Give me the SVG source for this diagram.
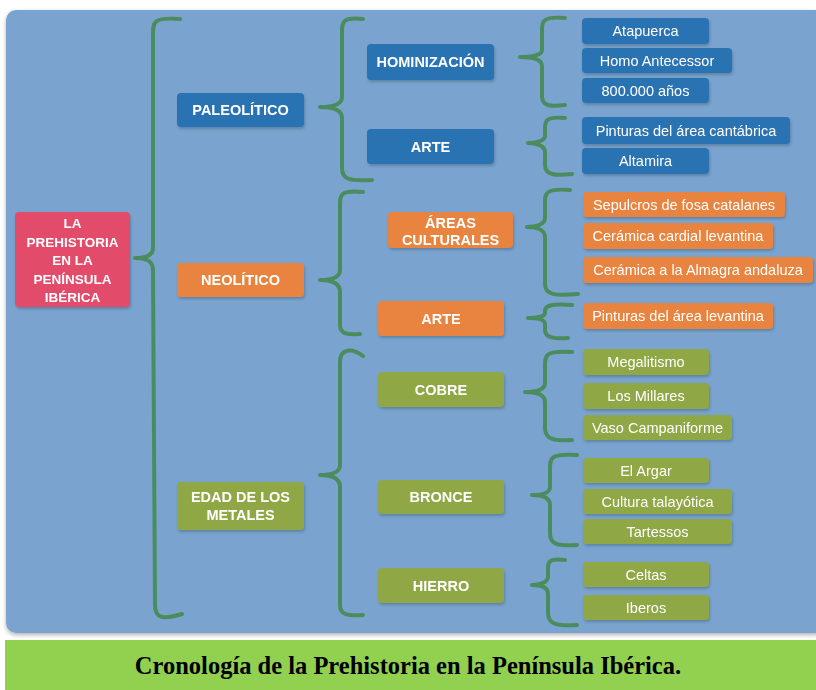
<svg xmlns="http://www.w3.org/2000/svg" width="816" height="690" viewBox="0 0 816 690">
<defs>
<filter id="sh" x="-10%" y="-20%" width="125%" height="150%">
<feDropShadow dx="1" dy="2" stdDeviation="1.5" flood-color="#2a3f5a" flood-opacity="0.35"/>
</filter>
<filter id="psh" x="-5%" y="-5%" width="110%" height="110%">
<feDropShadow dx="0" dy="2" stdDeviation="2" flood-color="#000" flood-opacity="0.3"/>
</filter>
</defs>
<style>
.b{fill:#2c73b3}
.o{fill:#e9843f}
.g{fill:#8fa845}
.p{fill:#e24b69}
.n{filter:url(#sh)}
.t{font-family:"Liberation Sans",Arial,sans-serif;font-weight:bold;font-size:14.5px;fill:#ffffff;text-anchor:middle}
.r{font-family:"Liberation Sans",Arial,sans-serif;font-weight:bold;font-size:13.5px;fill:#ffffff;text-anchor:middle}
.l{font-family:"Liberation Sans",Arial,sans-serif;font-size:14.5px;fill:#ffffff;text-anchor:middle}
.br{fill:none;stroke:#4b8c5e;stroke-width:4;stroke-linecap:round;stroke-linejoin:round}
.cap{font-family:"Liberation Serif","Times New Roman",serif;font-weight:bold;font-size:24.5px;fill:#000;text-anchor:middle}
</style>
<rect width="816" height="690" fill="#ffffff"/>
<rect x="6" y="10" width="820" height="623" rx="10" fill="#7aa4cf" filter="url(#psh)"/>
<rect x="5" y="640" width="811" height="50" fill="#92d050"/>
<text class="cap" x="408" y="674">Cronología de la Prehistoria en la Península Ibérica.</text>

<g id="connectors">
<path class="br" d="M180,19 C153,17 153,22 153,35 L153,248 C153,256 145,258 135,258 C145,258 153,260 153,270 L155,605 C155,618 162,620 182,614"/>
<path class="br" d="M363,19 C342,17 342,22 342,33 L342,97 C342,105 332,107 320,107 C332,107 342,109 342,118 L342,168 C342,180 350,181 372,180"/>
<path class="br" d="M363,192 C340,190 340,195 340,205 L340,270 C340,278 330,280 320,280 C330,280 340,282 340,292 L340,325 C340,334 348,335 360,334"/>
<path class="br" d="M363,356 C352,348 340,348 340,362 L340,465 C340,473 330,475 320,475 C330,475 340,477 340,487 L340,605 C340,615 348,616 363,615"/>
<path class="br" d="M565,18 C542,16 542,22 542,30 L542,50 C542,55 532,57 520,57 C532,57 542,59 542,66 L542,96 C542,106 550,107 565,105"/>
<path class="br" d="M565,118 C545,116 545,122 545,128 L545,136 C545,141 535,143 528,143 C535,143 545,145 545,152 L545,165 C545,175 555,176 572,174"/>
<path class="br" d="M570,190 C545,188 545,194 545,202 L545,218 C545,225 535,227 527,227 C535,227 545,229 545,237 L545,284 C545,295 555,296 578,294"/>
<path class="br" d="M572,305 C548,303 545,307 545,311 L545,313 C545,317 535,318 528,318 C535,318 545,319 545,324 L545,330 C545,338 555,339 568,338"/>
<path class="br" d="M572,352 C545,350 545,356 545,365 L545,383 C545,390 535,392 525,392 C535,392 545,394 545,402 L545,428 C545,440 555,441 572,440"/>
<path class="br" d="M577,455 C550,453 550,459 550,468 L550,487 C550,493 542,495 532,495 C542,495 550,497 550,505 L550,533 C550,545 558,546 577,545"/>
<path class="br" d="M565,560 C548,558 548,563 548,568 L548,577 C548,582 540,585 532,585 C540,585 548,587 548,594 L548,613 C548,625 558,626 577,625"/>
</g>

<g id="root" class="n"><rect class="p" x="15" y="212" width="115" height="95" rx="4"/>
<text class="r" x="72.5" y="228">LA</text><text class="r" x="72.5" y="247">PREHISTORIA</text><text class="r" x="72.5" y="265">EN LA</text><text class="r" x="72.5" y="284">PENÍNSULA</text><text class="r" x="72.5" y="302">IBÉRICA</text></g>

<g id="paleolitico" class="n"><rect class="b" x="177" y="93" width="127" height="34" rx="4"/><text class="t" x="240.5" y="115">PALEOLÍTICO</text></g>
<g id="neolitico" class="n"><rect class="o" x="177" y="263" width="127" height="34" rx="4"/><text class="t" x="240.5" y="285">NEOLÍTICO</text></g>
<g id="metales" class="n"><rect class="g" x="177" y="482" width="127" height="48" rx="4"/><text class="t" x="240.5" y="502">EDAD DE LOS</text><text class="t" x="240.5" y="520">METALES</text></g>

<g id="hominizacion" class="n"><rect class="b" x="367" y="44" width="127" height="36" rx="4"/><text class="t" x="430.5" y="67">HOMINIZACIÓN</text></g>
<g id="arte-paleo" class="n"><rect class="b" x="367" y="129" width="127" height="35" rx="4"/><text class="t" x="430.5" y="152">ARTE</text></g>
<g id="areas" class="n"><rect class="o" x="388" y="212" width="125" height="36" rx="4"/><text class="t" x="450.5" y="228">ÁREAS</text><text class="t" x="450.5" y="245">CULTURALES</text></g>
<g id="arte-neo" class="n"><rect class="o" x="378" y="301" width="126" height="35" rx="4"/><text class="t" x="441" y="324">ARTE</text></g>
<g id="cobre" class="n"><rect class="g" x="378" y="372" width="126" height="35" rx="4"/><text class="t" x="441" y="395">COBRE</text></g>
<g id="bronce" class="n"><rect class="g" x="378" y="480" width="126" height="34" rx="4"/><text class="t" x="441" y="502">BRONCE</text></g>
<g id="hierro" class="n"><rect class="g" x="378" y="568" width="126" height="35" rx="4"/><text class="t" x="441" y="591">HIERRO</text></g>

<g id="atapuerca" class="n"><rect class="b" x="582" y="18" width="127" height="26" rx="4"/><text class="l" x="645.5" y="36">Atapuerca</text></g>
<g id="homo" class="n"><rect class="b" x="582" y="48" width="150" height="25" rx="4"/><text class="l" x="657" y="66">Homo Antecessor</text></g>
<g id="anos" class="n"><rect class="b" x="582" y="78" width="127" height="25" rx="4"/><text class="l" x="645.5" y="96">800.000 años</text></g>
<g id="cantabrica" class="n"><rect class="b" x="582" y="117" width="208" height="27" rx="4"/><text class="l" x="686" y="136">Pinturas del área cantábrica</text></g>
<g id="altamira" class="n"><rect class="b" x="582" y="148" width="127" height="26" rx="4"/><text class="l" x="645.5" y="166">Altamira</text></g>
<g id="sepulcros" class="n"><rect class="o" x="583" y="192" width="202" height="25" rx="4"/><text class="l" x="684" y="210">Sepulcros de fosa catalanes</text></g>
<g id="cardial" class="n"><rect class="o" x="583" y="223" width="190" height="26" rx="4"/><text class="l" x="678" y="241">Cerámica cardial levantina</text></g>
<g id="almagra" class="n"><rect class="o" x="583" y="257" width="230" height="26" rx="4"/><text class="l" x="698" y="275">Cerámica a la Almagra andaluza</text></g>
<g id="levantina" class="n"><rect class="o" x="583" y="303" width="190" height="26" rx="4"/><text class="l" x="678" y="321">Pinturas del área levantina</text></g>
<g id="megalitismo" class="n"><rect class="g" x="583" y="349" width="126" height="26" rx="4"/><text class="l" x="646" y="367">Megalitismo</text></g>
<g id="millares" class="n"><rect class="g" x="583" y="383" width="126" height="26" rx="4"/><text class="l" x="646" y="401">Los Millares</text></g>
<g id="vaso" class="n"><rect class="g" x="583" y="415" width="149" height="25" rx="4"/><text class="l" x="657.5" y="433">Vaso Campaniforme</text></g>
<g id="argar" class="n"><rect class="g" x="583" y="458" width="126" height="25" rx="4"/><text class="l" x="646" y="476">El Argar</text></g>
<g id="talayotica" class="n"><rect class="g" x="583" y="489" width="149" height="25" rx="4"/><text class="l" x="657.5" y="507">Cultura talayótica</text></g>
<g id="tartessos" class="n"><rect class="g" x="583" y="519" width="149" height="25" rx="4"/><text class="l" x="657.5" y="537">Tartessos</text></g>
<g id="celtas" class="n"><rect class="g" x="583" y="562" width="126" height="25" rx="4"/><text class="l" x="646" y="580">Celtas</text></g>
<g id="iberos" class="n"><rect class="g" x="583" y="595" width="126" height="25" rx="4"/><text class="l" x="646" y="613">Iberos</text></g>
</svg>
